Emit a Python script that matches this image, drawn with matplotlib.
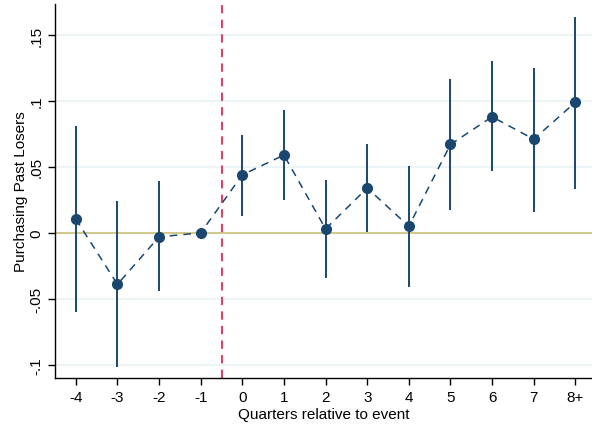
import numpy as np
import matplotlib.pyplot as plt

plt.rcParams['font.family'] = ['Liberation Sans', 'DejaVu Sans']

# event-time coefficients with 95% confidence bounds
quarters = ['-4', '-3', '-2', '-1', '0', '1', '2', '3', '4', '5', '6', '7', '8+']
coef = [0.0105, -0.039, -0.003, 0.0, 0.044, 0.059, 0.003, 0.034, 0.005, 0.067, 0.088, 0.071, 0.099]
ci_low = [-0.060, -0.102, -0.044, 0.0, 0.013, 0.025, -0.034, 0.001, -0.041, 0.017, 0.047, 0.016, 0.033]
ci_high = [0.081, 0.024, 0.039, 0.0, 0.074, 0.093, 0.040, 0.067, 0.051, 0.117, 0.130, 0.125, 0.164]
yticks = [-0.1, -0.05, 0, 0.05, 0.1, 0.15]
ytick_labels = ['-.1', '-.05', '0', '.05', '.1', '.15']

navy = '#1a476f'

fig = plt.figure(figsize=(5.92, 4.27), dpi=100)
ax = fig.add_axes([55 / 592, 48 / 427, 537 / 592, 374 / 427])

x = np.arange(-4, len(quarters) - 4)

for v in yticks:
    if v != 0:
        ax.axhline(v, color='#eaf2f3', linewidth=1.2, zorder=0)
ax.axhline(0, color='#d2c98f', linewidth=1.5, zorder=1)
ax.axvline(-0.5, color='#d6456a', linewidth=1.5, linestyle=(0, (4, 3)), zorder=1)

ax.vlines(x, ci_low, ci_high, color=navy, linewidth=1.4, zorder=2)
ax.plot(x, coef, color=navy, linewidth=1.1, linestyle=(0, (5, 4)), zorder=3)
ax.plot(x, coef, 'o', color=navy, markersize=7, zorder=4)

ax.set_xlim(-4.5, 8.4)
ax.set_ylim(-0.11, 0.1735)
ax.set_xticks(x)
ax.set_xticklabels(quarters)
ax.set_yticks(yticks)
ax.set_yticklabels(ytick_labels, rotation=90, va='center')

for s in ['top', 'right']:
    ax.spines[s].set_visible(False)
for s in ['left', 'bottom']:
    ax.spines[s].set_linewidth(1.0)
ax.tick_params(axis='both', labelsize=11, length=5, width=1.0)

ax.set_xlabel('Quarters relative to event', fontsize=11, labelpad=2)
ax.set_ylabel('Purchasing Past Losers', fontsize=11, labelpad=1)

fig.savefig('out.png', dpi=100)
